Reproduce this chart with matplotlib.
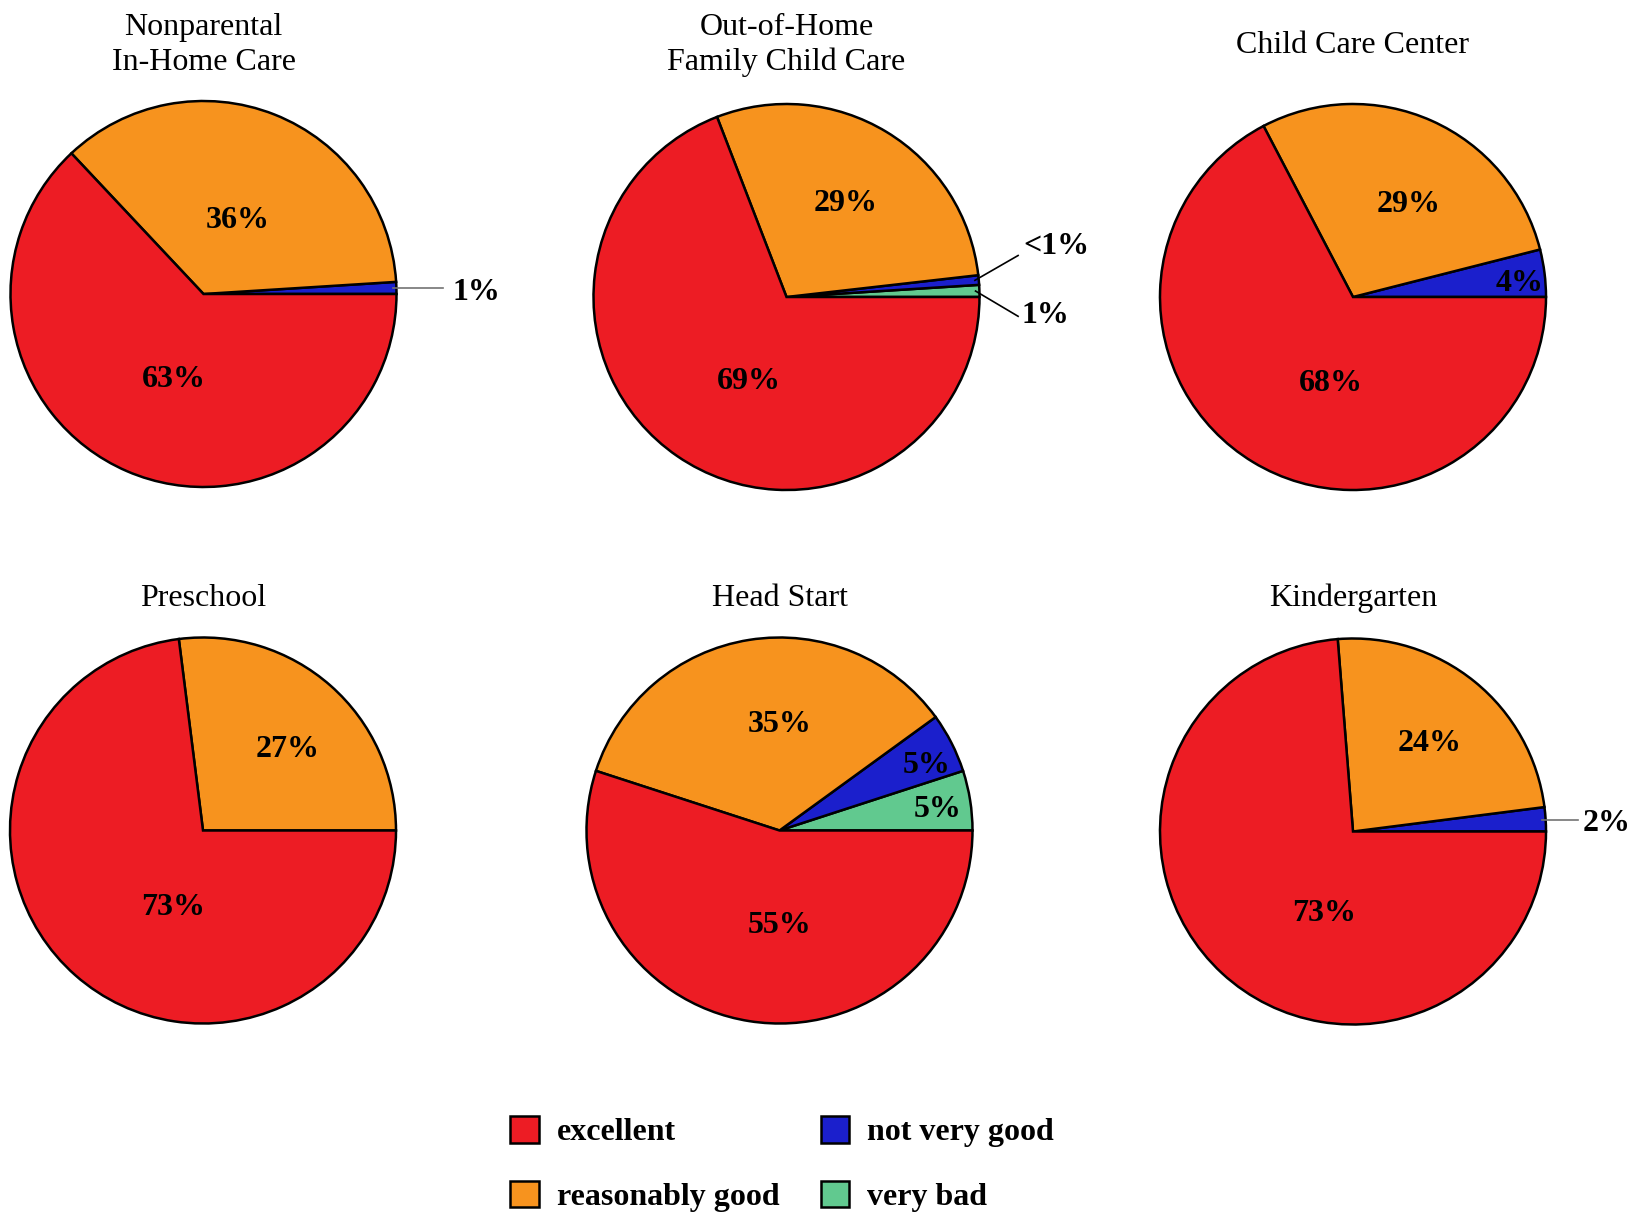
"""Six pies: rating of child care by type of care."""
import numpy as np
import matplotlib
matplotlib.use('Agg')
import matplotlib.pyplot as plt
from matplotlib.patches import Patch

plt.rcParams['font.family'] = ['Liberation Serif', 'DejaVu Serif']

# data (percent)
titles = ['Nonparental\nIn-Home Care', 'Out-of-Home\nFamily Child Care', 'Child Care Center',
          'Preschool', 'Head Start', 'Kindergarten']
categories = ['excellent', 'reasonably good', 'not very good', 'very bad']
excellent = [63, 69, 68, 73, 55, 73]
reasonably_good = [36, 29, 29, 27, 35, 24]
not_very_good = [1, 0.8, 4, 0, 5, 2]
very_bad = [0, 1, 0, 0, 5, 0]

colors = {'excellent': '#ED1C24', 'reasonably good': '#F7931E',
          'not very good': '#1B1FCC', 'very bad': '#61C98F'}

# layout, in pixels (y measured from top)
W, H = 1636, 1215
R = 193
FS = 23
DY = 4  # text sits a little lower than matplotlib's 'center'
centers = [(203.5, 294), (786.5, 297), (1353, 297),
           (203, 830.5), (779.5, 830.5), (1353, 831.5)]
title_y = [41, 41, 41.5, 594.5, 594.5, 594.5]

# label placement: (angle in degrees, distance as fraction of radius)
label_pos = [
    {'reasonably good': (66, 0.44), 'excellent': (250, 0.45)},
    {'reasonably good': (59, 0.59), 'excellent': (245, 0.46)},
    {'reasonably good': (60, 0.58), 'not very good': (6, 0.87), 'excellent': (255, 0.44)},
    {'reasonably good': (45, 0.62), 'excellent': (248, 0.41)},
    {'reasonably good': (90, 0.57), 'not very good': (25, 0.84),
     'very bad': (9, 0.83), 'excellent': (270, 0.47)},
    {'reasonably good': (50, 0.62), 'excellent': (250, 0.43)},
]
# callouts: line end (x, y) and text (x, y) in radius units; None = keep slice height
callouts = [
    {'not very good': (1.24, None, 1.29, None, '0.45')},
    {'not very good': (1.20, 0.215, 1.228, 0.28, 'black'),
     'very bad': (1.20, -0.10, 1.217, -0.074, 'black')},
    {}, {}, {},
    {'not very good': (1.167, None, 1.19, None, '0.45')},
]


def pct_text(v):
    return '<1%' if v < 1 else f'{v:.0f}%'


fig = plt.figure(figsize=(W / 100, H / 100), dpi=100)
ax = fig.add_axes([0, 0, 1, 1])

for i in range(6):
    vals = {'excellent': excellent[i], 'reasonably good': reasonably_good[i],
            'not very good': not_very_good[i], 'very bad': very_bad[i]}
    # counterclockwise from 3 o'clock: very bad, not very good, reasonably good, excellent
    order = [c for c in categories[::-1] if vals[c] > 0]
    cx, cy = centers[i][0], H - centers[i][1]
    wedges, _ = ax.pie([vals[c] for c in order], colors=[colors[c] for c in order],
                       startangle=0, counterclock=True, center=(cx, cy), radius=R,
                       wedgeprops=dict(edgecolor='black', linewidth=1.8))

    ax.text(cx, H - title_y[i] - DY, titles[i], ha='center', va='center',
            fontsize=FS, linespacing=1.25)

    for cat, w in zip(order, wedges):
        txt = pct_text(vals[cat])
        if cat in label_pos[i]:
            ang, r = label_pos[i][cat]
            a = np.deg2rad(ang)
            ax.text(cx + r * R * np.cos(a), cy + r * R * np.sin(a) - DY, txt,
                    ha='center', va='center', fontsize=FS, fontweight='bold')
        elif cat in callouts[i]:
            ex, ey, tx, ty, lc = callouts[i][cat]
            mid = np.deg2rad((w.theta1 + w.theta2) / 2)
            sx, sy = 0.98 * np.cos(mid), 0.98 * np.sin(mid)
            ey = sy if ey is None else ey
            ty = sy if ty is None else ty
            ax.plot([cx + sx * R, cx + ex * R], [cy + sy * R, cy + ey * R],
                    color=lc, lw=1.2)
            ax.text(cx + tx * R, cy + ty * R - DY, txt, ha='left', va='center',
                    fontsize=FS, fontweight='bold')

ax.set_xlim(0, W)
ax.set_ylim(0, H)
ax.set_aspect('equal')
ax.axis('off')

handles = [Patch(facecolor=colors[c], edgecolor='black', linewidth=1.8, label=c)
           for c in categories]
fig.legend(handles=handles, ncol=2, loc='center', bbox_to_anchor=(0.478, 0.042),
           frameon=False, prop=dict(weight='bold', size=FS),
           handlelength=0.9, handleheight=0.9, handletextpad=0.55,
           columnspacing=1.3, labelspacing=1.04)

fig.savefig('out.png', dpi=100)
